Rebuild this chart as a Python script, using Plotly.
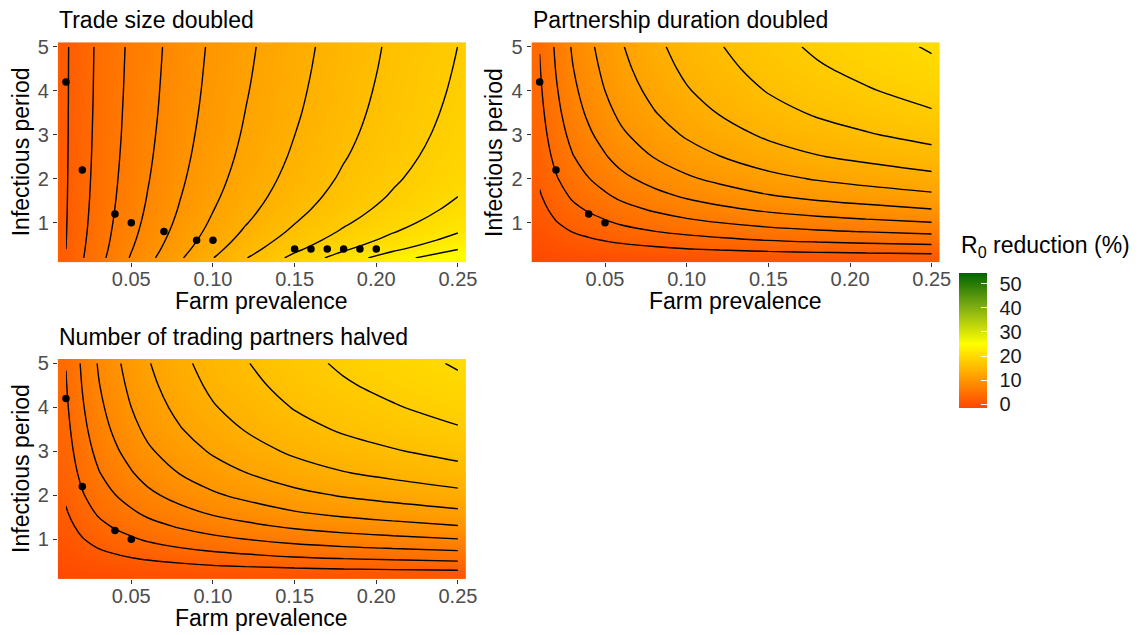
import plotly.graph_objects as go

# Grid: farm prevalence (columns) and infectious period (rows)
prevalence = [0.01, 0.02, 0.03, 0.04, 0.05, 0.06, 0.08, 0.10, 0.12, 0.15, 0.18, 0.21, 0.25]
infectious_period = [0.2, 0.4, 0.6, 0.8, 1.0, 1.3, 1.6, 2.0, 2.5, 3.0, 3.5, 4.0, 4.5, 5.0]

# R0 reduction (%) when the trade size is doubled (one row per infectious period)
trade_size_doubled = [
    [2.05, 3.87, 5.36, 6.80, 8.18, 9.44, 11.79, 13.95, 15.90, 18.54, 20.91, 23.07, 25.71],
    [2.00, 3.76, 5.20, 6.58, 7.90, 9.10, 11.34, 13.39, 15.21, 17.61, 19.74, 21.61, 23.91],
    [1.96, 3.67, 5.08, 6.41, 7.68, 8.84, 10.99, 12.95, 14.68, 16.92, 18.89, 20.60, 22.72],
    [1.93, 3.59, 4.98, 6.28, 7.50, 8.62, 10.70, 12.59, 14.25, 16.37, 18.24, 19.86, 21.86],
    [1.91, 3.53, 4.90, 6.16, 7.35, 8.44, 10.46, 12.30, 13.89, 15.94, 17.74, 19.29, 21.22],
    [1.88, 3.46, 4.80, 6.02, 7.17, 8.23, 10.17, 11.94, 13.47, 15.43, 17.16, 18.66, 20.51],
    [1.86, 3.40, 4.72, 5.91, 7.03, 8.06, 9.95, 11.66, 13.14, 15.04, 16.72, 18.18, 19.99],
    [1.84, 3.34, 4.64, 5.80, 6.88, 7.88, 9.71, 11.36, 12.80, 14.64, 16.28, 17.72, 19.49],
    [1.82, 3.28, 4.56, 5.69, 6.74, 7.71, 9.48, 11.07, 12.47, 14.27, 15.87, 17.30, 19.04],
    [1.81, 3.24, 4.50, 5.60, 6.63, 7.58, 9.30, 10.86, 12.22, 13.99, 15.57, 16.99, 18.72],
    [1.80, 3.20, 4.45, 5.54, 6.55, 7.47, 9.16, 10.68, 12.03, 13.77, 15.34, 16.76, 18.48],
    [1.79, 3.17, 4.41, 5.48, 6.48, 7.39, 9.05, 10.54, 11.87, 13.60, 15.16, 16.58, 18.29],
    [1.79, 3.15, 4.38, 5.44, 6.42, 7.32, 8.96, 10.43, 11.74, 13.46, 15.01, 16.43, 18.14],
    [1.78, 3.13, 4.35, 5.40, 6.37, 7.26, 8.88, 10.33, 11.63, 13.34, 14.89, 16.31, 18.01],
]

# R0 reduction (%) when the partnership duration is doubled
partnership_duration_doubled = [
    [-0.79, -0.55, -0.35, -0.21, -0.08, 0.05, 0.23, 0.39, 0.52, 0.68, 0.81, 0.91, 1.03],
    [-0.31, 0.15, 0.52, 0.80, 1.05, 1.29, 1.64, 1.95, 2.17, 2.47, 2.69, 2.86, 3.07],
    [0.13, 0.78, 1.32, 1.73, 2.08, 2.39, 2.86, 3.27, 3.59, 4.02, 4.33, 4.56, 4.85],
    [0.53, 1.37, 2.05, 2.53, 2.95, 3.35, 3.96, 4.46, 4.85, 5.38, 5.77, 6.07, 6.45],
    [0.89, 1.90, 2.68, 3.24, 3.75, 4.23, 4.93, 5.52, 5.99, 6.63, 7.11, 7.48, 7.93],
    [1.39, 2.57, 3.51, 4.20, 4.80, 5.36, 6.22, 6.97, 7.55, 8.34, 8.93, 9.38, 9.93],
    [1.82, 3.16, 4.24, 5.02, 5.71, 6.37, 7.38, 8.24, 8.93, 9.84, 10.49, 10.96, 11.56],
    [2.29, 3.83, 5.05, 5.95, 6.76, 7.54, 8.71, 9.71, 10.46, 11.44, 12.16, 12.72, 13.41],
    [2.77, 4.50, 5.88, 6.92, 7.85, 8.74, 10.07, 11.12, 11.95, 13.06, 13.89, 14.49, 15.22],
    [3.15, 5.03, 6.55, 7.70, 8.73, 9.70, 11.08, 12.23, 13.15, 14.34, 15.19, 15.84, 16.65],
    [3.45, 5.46, 7.10, 8.34, 9.44, 10.44, 11.90, 13.13, 14.10, 15.32, 16.24, 16.94, 17.82],
    [3.70, 5.80, 7.54, 8.85, 10.00, 11.02, 12.55, 13.85, 14.83, 16.11, 17.09, 17.83, 18.78],
    [3.90, 6.08, 7.90, 9.26, 10.42, 11.48, 13.08, 14.40, 15.41, 16.76, 17.77, 18.57, 19.57],
    [4.05, 6.30, 8.18, 9.58, 10.76, 11.85, 13.50, 14.84, 15.88, 17.27, 18.34, 19.17, 20.20],
]

# Halving the number of trading partners gives the same surface
trading_partners_halved = partnership_duration_doubled

# Observed farm prevalence / infectious period pairs
obs_trade_prev = [0.01, 0.02, 0.04, 0.05, 0.07, 0.09, 0.10, 0.15, 0.16, 0.17, 0.18, 0.19, 0.20]
obs_trade_period = [4.2, 2.2, 1.2, 1.0, 0.8, 0.6, 0.6, 0.4, 0.4, 0.4, 0.4, 0.4, 0.4]
obs_partner_prev = [0.01, 0.02, 0.04, 0.05]
obs_partner_period = [4.2, 2.2, 1.2, 1.0]

x_tick_vals = [0.05, 0.10, 0.15, 0.20, 0.25]
x_tick_text = ["0.05", "0.10", "0.15", "0.20", "0.25"]
y_tick_vals = [1, 2, 3, 4, 5]
legend_ticks = [0, 10, 20, 30, 40, 50]

W, H = 1144, 635
FONT = "Liberation Sans, Arial, sans-serif"
ZMIN, ZMAX = -1.4, 54.5
scale = [
    [0.0, "#FF4500"],
    [0.476, "#FFFF00"],
    [0.738, "#84B014"],
    [1.0, "#006400"],
]


def fx(px):
    return px / W


def fy(px):
    return 1 - px / H


# Shared colour-bar placement; the first bar carries the labels, the second
# one (same scale, same place) adds the white tick marks inside the bar.
bar_common = dict(
    x=fx(959), xanchor="left", xpad=0,
    y=fy(407.7), yanchor="bottom", ypad=0,
    len=135.4, lenmode="pixels", thickness=27.7, thicknessmode="pixels",
    outlinewidth=0, tickvals=legend_ticks,
)
bar_labels = dict(bar_common, ticks="outside", ticklen=9, tickcolor="rgba(0,0,0,0)",
                  tickfont=dict(family=FONT, size=20, color="#1A1A1A"))
bar_ticks = dict(bar_common, ticks="inside", ticklen=5.5, tickwidth=1.2, tickcolor="white",
                 showticklabels=False)

panels = [
    dict(title="Trade size doubled",
         z=trade_size_doubled, end=24, ox=obs_trade_prev, oy=obs_trade_period,
         xd=(57.8, 466.1), yd=(42.3, 262.3), bar=bar_labels),
    dict(title="Partnership duration doubled",
         z=partnership_duration_doubled, end=20, ox=obs_partner_prev, oy=obs_partner_period,
         xd=(531.5, 939.9), yd=(42.3, 262.3), bar=bar_ticks),
    dict(title="Number of trading partners halved",
         z=trading_partners_halved, end=20, ox=obs_partner_prev, oy=obs_partner_period,
         xd=(57.8, 466.1), yd=(358.9, 578.9), bar=None),
]

fig = go.Figure()
annotations = []
layout_axes = {}

for i, p in enumerate(panels):
    k = "" if i == 0 else str(i + 1)
    xa, ya = "x" + k, "y" + k
    fig.add_trace(go.Heatmap(
        x=prevalence, y=infectious_period, z=p["z"], zsmooth="best",
        colorscale=scale, zmin=ZMIN, zmax=ZMAX, showscale=p["bar"] is not None,
        colorbar=p["bar"] or {},
        hoverinfo="skip", xaxis=xa, yaxis=ya,
    ))
    fig.add_trace(go.Contour(
        x=prevalence, y=infectious_period, z=p["z"], autocontour=False,
        contours=dict(coloring="none", start=2, end=p["end"], size=2),
        line=dict(color="black", width=1.4, smoothing=1.0),
        showscale=False, hoverinfo="skip", xaxis=xa, yaxis=ya,
    ))
    fig.add_trace(go.Scatter(
        x=p["ox"], y=p["oy"], mode="markers",
        marker=dict(color="black", size=7.5, line=dict(width=0)),
        hoverinfo="skip", showlegend=False, xaxis=xa, yaxis=ya,
    ))

    tick_common = dict(ticks="outside", ticklen=4, tickwidth=1.1, tickcolor="#333333",
                       tickfont=dict(family=FONT, size=20, color="#4D4D4D"),
                       showgrid=False, zeroline=False, showline=False,
                       fixedrange=True, automargin=False)
    layout_axes["xaxis" + k] = dict(domain=[fx(p["xd"][0]), fx(p["xd"][1])], range=[0.005, 0.255],
                                    tickvals=x_tick_vals, ticktext=x_tick_text, anchor=ya,
                                    ticklabelstandoff=-5, **tick_common)
    layout_axes["yaxis" + k] = dict(domain=[fy(p["yd"][1]), fy(p["yd"][0])], range=[0.1, 5.1],
                                    tickvals=y_tick_vals, anchor=xa, **tick_common)

    x0, x1 = p["xd"]
    y0, y1 = p["yd"]
    annotations.append(dict(text=p["title"], x=fx(x0 - 0.5), y=fy(y0 - 22), xref="paper", yref="paper",
                            xanchor="left", yanchor="middle", showarrow=False,
                            font=dict(family=FONT, size=23, color="black")))
    annotations.append(dict(text="Farm prevalence", x=fx((x0 + x1) / 2), y=fy(y1 + 38.7),
                            xref="paper", yref="paper", xanchor="center", yanchor="middle",
                            showarrow=False, font=dict(family=FONT, size=23, color="black")))
    annotations.append(dict(text="Infectious period", x=fx(x0 - 36.8), y=fy((y0 + y1) / 2),
                            xref="paper", yref="paper", xanchor="center", yanchor="middle",
                            textangle=-90, showarrow=False,
                            font=dict(family=FONT, size=23, color="black")))

annotations.append(dict(text="R<sub>0</sub> reduction (%)", x=fx(959), y=fy(246.7),
                        xref="paper", yref="paper", xanchor="left", yanchor="middle",
                        showarrow=False, font=dict(family=FONT, size=23, color="black")))

fig.update_layout(
    width=W, height=H, margin=dict(l=0, r=0, t=0, b=0, autoexpand=False),
    paper_bgcolor="white", plot_bgcolor="#EBEBEB",
    showlegend=False, hovermode=False,
    annotations=annotations,
    font=dict(family=FONT),
    **layout_axes,
)

fig.write_html("out.html")
